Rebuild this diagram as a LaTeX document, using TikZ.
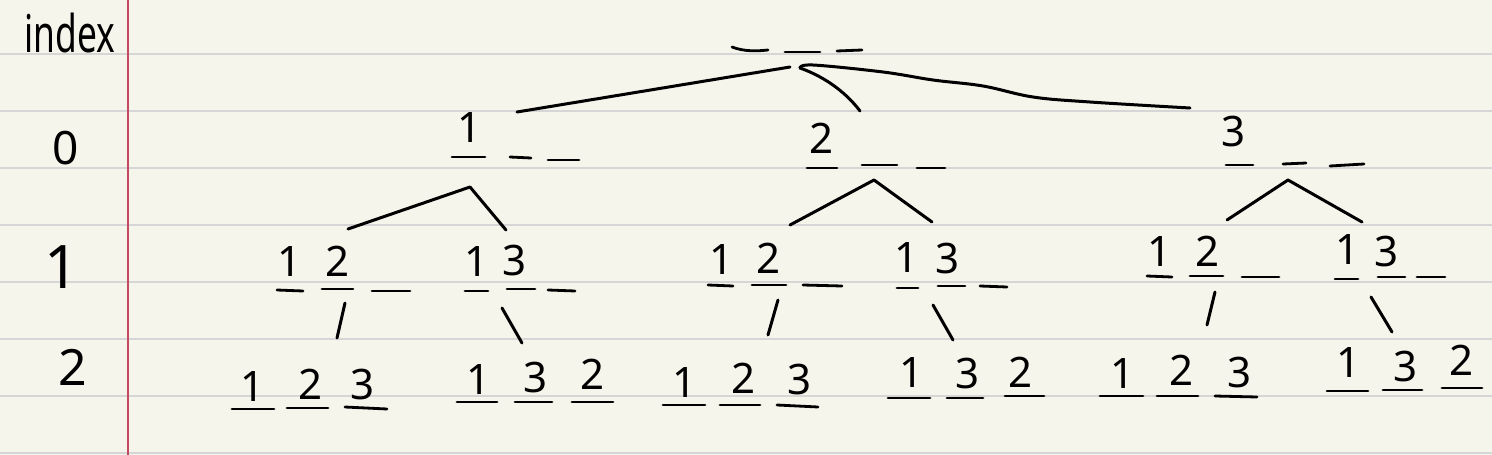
\documentclass[tikz,border=0pt]{standalone}
\usepackage{fontspec}
\usepackage{graphicx}
\setmainfont{Noto Sans}
\definecolor{paper}{RGB}{246,245,236}
\definecolor{rulegray}{RGB}{214,214,214}
\definecolor{marginred}{RGB}{196,72,98}
\begin{document}
\begin{tikzpicture}[x=1pt,y=-1pt,
  ink/.style={line width=3pt,line cap=round,line join=round,black},
  ul/.style={line width=2.8pt,line cap=round,black},
  dig/.style={inner sep=0pt,font=\fontsize{42}{42}\selectfont},
  lbl/.style={inner sep=0pt,font=\fontsize{46}{46}\selectfont}]
\fill[paper] (0,0) rectangle (1492,455);
\useasboundingbox (0,0) rectangle (1492,455);
\foreach \y in {53.5,110.6,167.7,224.8,281.9,339,396.1,453.2}
  \draw[rulegray,line width=2pt] (0,\y) -- (1492,\y);
\draw[marginred,line width=2pt] (128,0) -- (128,455);

% index labels
\node[inner sep=0pt,anchor=base,font=\fontsize{52}{52}\selectfont] (idx) at (70,52) {\scalebox{0.68}[1]{index}};
\node[lbl] (i0) at (66,148) {0};
\node[inner sep=0pt,font=\fontsize{60}{60}\selectfont] (i1) at (62,267) {1};
\node[inner sep=0pt,font=\fontsize{50}{50}\selectfont] (i2) at (73,367) {2};

% root
\draw[ul] (732,47) .. controls (745,52) and (758,51) .. (768,50);
\draw[ul] (785,52) -- (820,52);
\draw[ul] (837,51) -- (862,50);
\coordinate (root) at (790,67);
\coordinate (rootr) at (800,68);

% level 0
\node[dig] (a) at (470,128) {1};
\draw[ul] (452,157) -- (485,157); \draw[ul] (510,157) -- (531,158); \draw[ul] (548,160) -- (579,160);
\node[dig] (b) at (822,138) {2};
\draw[ul] (807,168) -- (837,168); \draw[ul] (862,165) -- (897,165); \draw[ul] (917,168) -- (945,168);
\node[dig] (c) at (1233,132) {3};
\draw[ul] (1226,165) -- (1253,165); \draw[ul] (1283,164) -- (1306,163); \draw[ul] (1330,166) -- (1364,164);

\coordinate (ain) at (517,112);
\coordinate (bin) at (860,111);
\coordinate (cin) at (1190,108);
\draw[ink] (root) -- (ain);
\draw[ink] (rootr) .. controls (828,78) and (848,95) .. (bin);
\draw[ink] plot[smooth,tension=0.6] coordinates {(rootr) (813,65) (883,72) (933,80) (983,86) (1033,97) (1090,102) (cin)};

% level 0 -> 1
\coordinate (aout) at (470,187); \coordinate (Ain) at (348,229); \coordinate (Bin) at (506,230);
\coordinate (bout) at (874,180); \coordinate (Cin) at (790,225); \coordinate (Din) at (932,222);
\coordinate (cout) at (1288,180); \coordinate (Ein) at (1227,220); \coordinate (Fin) at (1362,222);
\draw[ink] (Ain) -- (aout) -- (Bin);
\draw[ink] (Cin) -- (bout) -- (Din);
\draw[ink] (Ein) -- (cout) -- (Fin);

% level 1
\node[dig] (A1) at (290,262) {1}; \node[dig] (A2) at (338,261) {2};
\draw[ul] (277,290) -- (303,291); \draw[ul] (322,289) -- (353,289); \draw[ul] (372,291) -- (410,291);
\node[dig] (B1) at (477,262) {1}; \node[dig] (B2) at (515,261) {3};
\draw[ul] (465,291) -- (488,291); \draw[ul] (507,289) -- (535,289); \draw[ul] (548,290) -- (575,291);
\node[dig] (C1) at (722,260) {1}; \node[dig] (C2) at (769,258) {2};
\draw[ul] (708,285) -- (733,286); \draw[ul] (752,285) -- (786,285); \draw[ul] (803,285) -- (842,286);
\node[dig] (D1) at (907,258) {1}; \node[dig] (D2) at (948,259) {3};
\draw[ul] (897,288) -- (918,288); \draw[ul] (938,286) -- (965,286); \draw[ul] (980,286) -- (1007,287);
\node[dig] (E1) at (1160,252) {1}; \node[dig] (E2) at (1207,251) {2};
\draw[ul] (1147,276) -- (1172,277); \draw[ul] (1190,276) -- (1223,276); \draw[ul] (1242,277) -- (1279,277);
\node[dig] (F1) at (1347,250) {1}; \node[dig] (F2) at (1386,252) {3};
\draw[ul] (1335,279) -- (1358,279); \draw[ul] (1378,277) -- (1405,277); \draw[ul] (1417,277) -- (1445,277);

% level 1 -> 2
\coordinate (Aout) at (345,303); \coordinate (G1in) at (337,338);
\coordinate (Bout) at (502,308); \coordinate (G2in) at (522,343);
\coordinate (Cout) at (778,300); \coordinate (G3in) at (768,335);
\coordinate (Dout) at (933,305); \coordinate (G4in) at (953,340);
\coordinate (Eout) at (1215,292); \coordinate (G5in) at (1207,325);
\coordinate (Fout) at (1371,297); \coordinate (G6in) at (1392,332);
\draw[ink] (Aout) -- (G1in);
\draw[ink] (Bout) -- (G2in);
\draw[ink] (Cout) -- (G3in);
\draw[ink] (Dout) -- (G4in);
\draw[ink] (Eout) -- (G5in);
\draw[ink] (Fout) -- (G6in);

% level 2
\node[dig] (G11) at (253,387) {1}; \node[dig] (G12) at (311,384) {2}; \node[dig] (G13) at (363,385) {3};
\draw[ul] (232,409) -- (274,409); \draw[ul] (287,408) -- (328,408); \draw[ul] (345,407) -- (387,409);
\node[dig] (G21) at (479,380) {1}; \node[dig] (G22) at (536,378) {3}; \node[dig] (G23) at (593,374) {2};
\draw[ul] (457,402) -- (497,402); \draw[ul] (515,402) -- (552,402); \draw[ul] (572,402) -- (613,402);
\node[dig] (G31) at (685,383) {1}; \node[dig] (G32) at (744,378) {2}; \node[dig] (G33) at (800,380) {3};
\draw[ul] (663,405) -- (705,405); \draw[ul] (720,405) -- (760,405); \draw[ul] (777,405) -- (818,407);
\node[dig] (G41) at (912,373) {1}; \node[dig] (G42) at (968,374) {3}; \node[dig] (G43) at (1021,372) {2};
\draw[ul] (888,398) -- (930,398); \draw[ul] (947,398) -- (983,398); \draw[ul] (1005,396) -- (1044,396);
\node[dig] (G51) at (1123,374) {1}; \node[dig] (G52) at (1182,370) {2}; \node[dig] (G53) at (1239,373) {3};
\draw[ul] (1100,396) -- (1143,396); \draw[ul] (1157,396) -- (1198,396); \draw[ul] (1215,396) -- (1257,397);
\node[dig] (G61) at (1348,363) {1}; \node[dig] (G62) at (1405,367) {3}; \node[dig] (G63) at (1461,360) {2};
\draw[ul] (1327,391) -- (1368,391); \draw[ul] (1383,390) -- (1422,390); \draw[ul] (1442,388) -- (1482,388);
\end{tikzpicture}
\end{document}
